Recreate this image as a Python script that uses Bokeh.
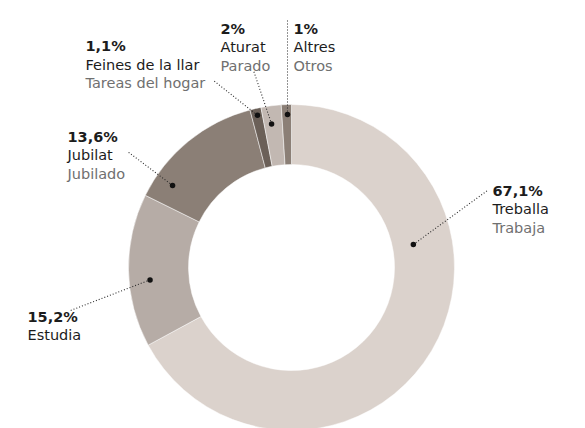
import math
from bokeh.plotting import figure
from bokeh.models import Range1d, ColumnDataSource
from bokeh.core.properties import value
from bokeh.embed import file_html
from bokeh.resources import INLINE

# ---- data ----
categories_ca = ["Treballa", "Estudia", "Jubilat", "Feines de la llar", "Aturat", "Altres"]
categories_es = ["Trabaja", "", "Jubilado", "Tareas del hogar", "Parado", "Otros"]
shares = [67.1, 15.2, 13.6, 1.1, 2.0, 1.0]
share_labels = ["67,1%", "15,2%", "13,6%", "1,1%", "2%", "1%"]

# ---- styles / layout ----
colors = ["#dbd2cc", "#b6aca6", "#8b7f76", "#6b6058", "#c2b8b2", "#8b7f76"]
W, H = 569, 428
def fx(x):  # picture px -> figure data x
    return x
def fy(y):  # picture px -> figure data y
    return H - y

CX, CY = fx(291), fy(267)
R_OUT, R_IN = 163, 103

# dot anchors (clockwise degrees from 12 o'clock, radius)
dot_angle = [79.3, 265.0, 304.6, 347.4, 352.1, 358.5]
dot_radius = [124, 142, 144.5, 156, 145, 153]
# leader line ends (picture px)
lead_x = [487, 70, 127, 213, 253, 287]
lead_y = [190, 310, 151, 80, 70, 20]
# label anchor (picture px): left x, first baseline
lab_x = [492, 27, 67, 85, 220, 293]
lab_y = [190, 316, 136, 45.5, 28, 28]
LINE = 18.5
FONT = "DejaVu Sans"
FSIZE = "14.5px"
DARK = "#1c1c1c"
GREY = "#707070"

p = figure(width=W, height=H, output_backend="svg", toolbar_location=None,
           x_range=Range1d(0, W), y_range=Range1d(0, H), min_border=0)
p.axis.visible = False
p.grid.visible = False
p.outline_line_color = None
p.background_fill_color = "white"
p.border_fill_color = "white"

total = sum(shares)
starts, ends = [], []
acc = 0.0
for s in shares:
    t1 = acc / total * 360.0
    acc += s
    t2 = acc / total * 360.0
    # clockwise from top -> bokeh counterclockwise from +x
    starts.append(math.radians(90 - t2))
    ends.append(math.radians(90 - t1))

src = ColumnDataSource(dict(start=starts, end=ends, color=colors, share=shares))
p.annular_wedge(x=CX, y=CY, inner_radius=R_IN, outer_radius=R_OUT,
                start_angle="start", end_angle="end", direction="anticlock",
                fill_color="color", line_color="white", line_width=0.5, source=src)

dx = [CX + r * math.sin(math.radians(a)) for a, r in zip(dot_angle, dot_radius)]
dy = [CY + r * math.cos(math.radians(a)) for a, r in zip(dot_angle, dot_radius)]

for i in range(len(shares)):
    p.line([dx[i], fx(lead_x[i])], [dy[i], fy(lead_y[i])], line_color="#2a2a2a",
           line_width=1.1, line_dash="1 2")

p.scatter(dx, dy, size=5.5, fill_color="#111111", line_color=None)

for i in range(len(shares)):
    x = fx(lab_x[i])
    y0 = lab_y[i]
    p.text([x], [fy(y0)], text=[share_labels[i]], text_font=value(FONT),
           text_font_size=FSIZE, text_font_style="bold", text_color=DARK,
           text_baseline="alphabetic", text_align="left")
    p.text([x], [fy(y0 + LINE)], text=[categories_ca[i]], text_font=value(FONT),
           text_font_size=FSIZE, text_color=DARK,
           text_baseline="alphabetic", text_align="left")
    if categories_es[i]:
        p.text([x], [fy(y0 + 2 * LINE)], text=[categories_es[i]], text_font=value(FONT),
               text_font_size=FSIZE, text_color=GREY,
               text_baseline="alphabetic", text_align="left")

open("out.html", "w").write(file_html(p, INLINE))
